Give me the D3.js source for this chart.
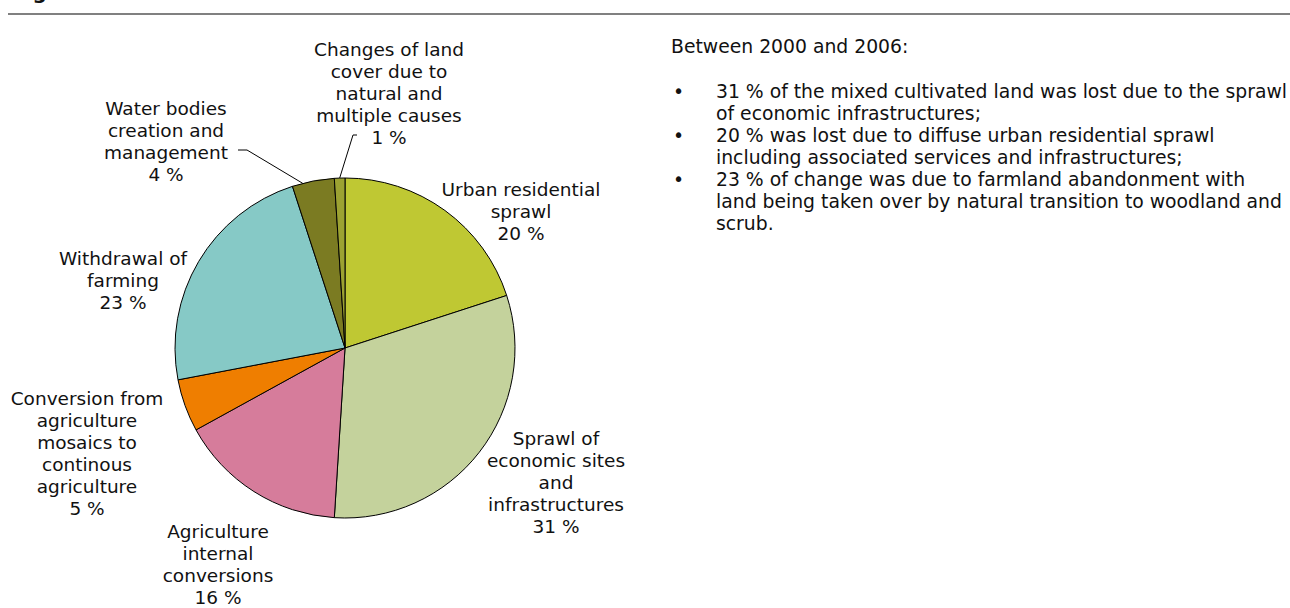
<!DOCTYPE html>
<html>
<head>
<meta charset="utf-8">
<script src="https://cdn.jsdelivr.net/npm/d3@7"></script>
<style>
  html, body { margin: 0; padding: 0; background: #ffffff; }
  svg { display: block; }
  text { font-family: "DejaVu Sans", Verdana, sans-serif; fill: #111111; }
</style>
</head>
<body>
<svg id="chart" width="1290" height="608"></svg>
<script>
// Causes of mixed cultivated land loss, 2000-2006 (shares in %)
const categories = [
  "Urban residential sprawl",
  "Sprawl of economic sites and infrastructures",
  "Agriculture internal conversions",
  "Conversion from agriculture mosaics to continous agriculture",
  "Withdrawal of farming",
  "Water bodies creation and management",
  "Changes of land cover due to natural and multiple causes"
];
const shares = [20, 31, 16, 5, 23, 4, 1];

// Wrapped label text for each slice
const labelLines = [
  ["Urban residential", "sprawl"],
  ["Sprawl of", "economic sites", "and", "infrastructures"],
  ["Agriculture", "internal", "conversions"],
  ["Conversion from", "agriculture", "mosaics to", "continous", "agriculture"],
  ["Withdrawal of", "farming"],
  ["Water bodies", "creation and", "management"],
  ["Changes of land", "cover due to", "natural and", "multiple causes"]
];

const sliceColors = ["#bfc833", "#c4d29c", "#d67c9b", "#ef7e00", "#86c9c6", "#7b7b22", "#9ca232"];

// Commentary beside the chart
const introText = "Between 2000 and 2006:";
const bulletLines = [
  ["31 % of the mixed cultivated land was lost due to the sprawl", "of economic infrastructures;"],
  ["20 % was lost due to diffuse urban residential sprawl", "including associated services and infrastructures;"],
  ["23 % of change was due to farmland abandonment with", "land being taken over by natural transition to woodland and", "scrub."]
];

const svg = d3.select("#chart");
const fontSize = 18.5;
const noteSize = 18.8;
const lineH = 22;

// Header: title (runs above the visible area) and rule
svg.append("text")
  .attr("x", 12).attr("y", -1.5)
  .attr("font-weight", "bold")
  .attr("font-size", 20)
  .text("Figure");
svg.append("line")
  .attr("x1", 8).attr("x2", 1290)
  .attr("y1", 14).attr("y2", 14)
  .attr("stroke", "#808080").attr("stroke-width", 2);

// Pie
const cx = 345, cy = 348, radius = 170;
const pie = d3.pie().sort(null).value(d => d).startAngle(0).endAngle(2 * Math.PI);
const arcs = pie(shares);
const arc = d3.arc().innerRadius(0).outerRadius(radius);

const g = svg.append("g").attr("transform", `translate(${cx},${cy})`);
g.selectAll("path.slice")
  .data(arcs)
  .join("path")
  .attr("class", "slice")
  .attr("d", arc)
  .attr("fill", (d, i) => sliceColors[i])
  .attr("stroke", "#000000")
  .attr("stroke-width", 1)
  .attr("stroke-linejoin", "round");

// Label anchors (centre x, first baseline y)
const labelPos = [
  [521, 196],
  [556, 445],
  [218, 538],
  [87, 405],
  [123, 265],
  [166, 115],
  [389, 56]
];

labelLines.forEach((lines, i) => {
  const [x, y] = labelPos[i];
  const t = svg.append("text")
    .attr("text-anchor", "middle")
    .attr("font-size", fontSize);
  lines.concat([`${shares[i]} %`]).forEach((line, k) => {
    t.append("tspan").attr("x", x).attr("y", y + k * lineH).text(line);
  });
});

// Leader lines for the two thin slices
function edgePoint(d, frac) {
  const a = d.startAngle + (d.endAngle - d.startAngle) * frac;
  return [cx + radius * Math.sin(a), cy - radius * Math.cos(a)];
}
const leaders = [
  { idx: 5, frac: 0.25, from: [[238, 150], [247, 150]] },
  { idx: 6, frac: 0.5, from: [[357, 135], [353, 135]] }
];
leaders.forEach(l => {
  const pts = l.from.concat([edgePoint(arcs[l.idx], l.frac)]);
  svg.append("path")
    .attr("d", d3.line()(pts))
    .attr("fill", "none")
    .attr("stroke", "#000000")
    .attr("stroke-width", 1);
});

// Commentary text
const tx = 671, bx = 673, ix = 716;
svg.append("text")
  .attr("x", tx).attr("y", 53)
  .attr("font-size", noteSize)
  .text(introText);

let yy = 98;
bulletLines.forEach(lines => {
  svg.append("text")
    .attr("x", bx).attr("y", yy)
    .attr("font-size", noteSize)
    .text("\u2022");
  lines.forEach(line => {
    svg.append("text")
      .attr("x", ix).attr("y", yy)
      .attr("font-size", noteSize)
      .text(line);
    yy += lineH;
  });
});
</script>
</body>
</html>
